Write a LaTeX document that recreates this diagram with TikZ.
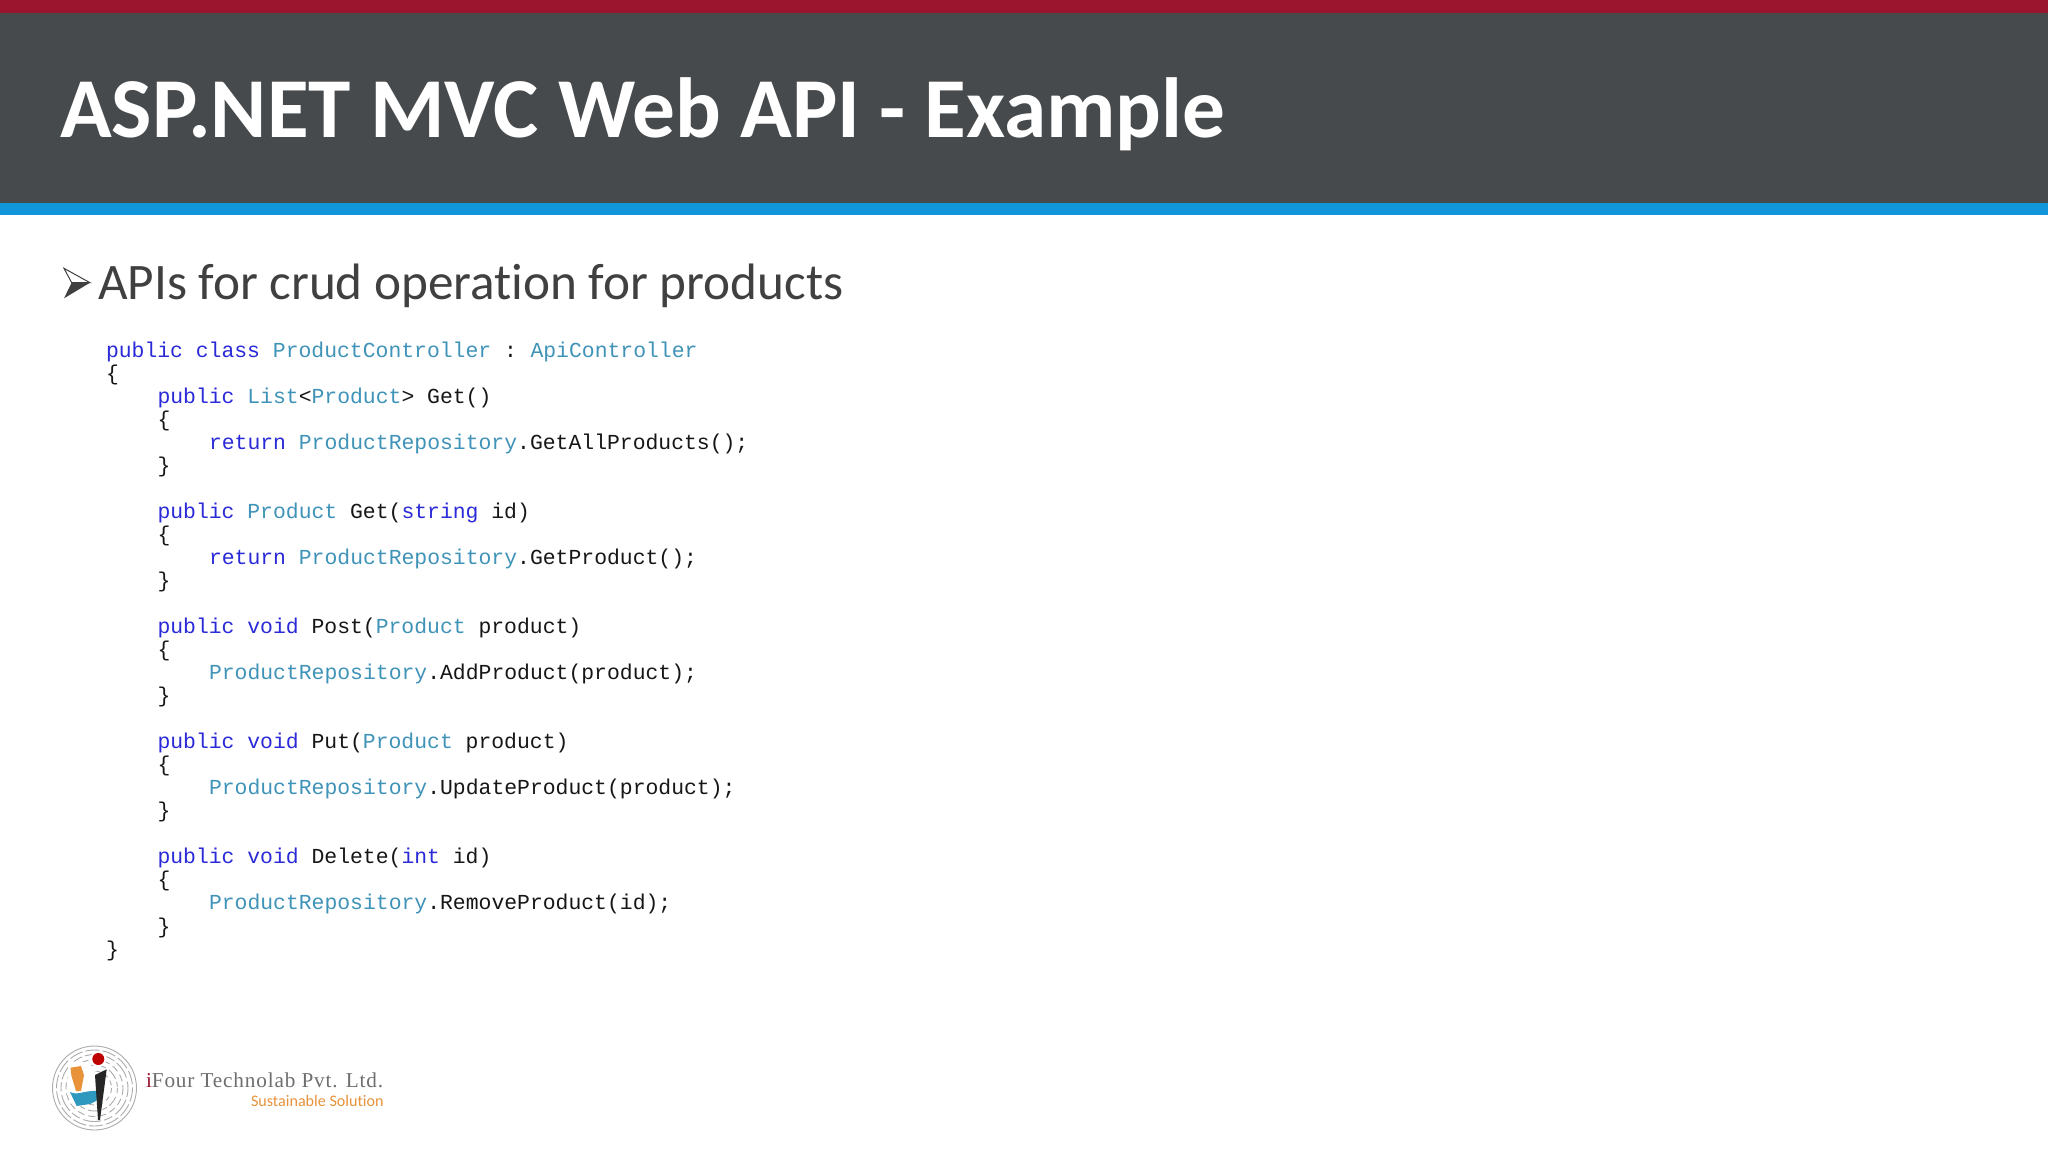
\documentclass[tikz,border=0pt]{standalone}
\usepackage{fontspec}
\setmainfont[Ligatures=NoCommon]{Carlito}
\newfontfamily\codefont{Liberation Mono}
\newfontfamily\logofont[LetterSpace=4]{Liberation Serif}
\definecolor{topred}{HTML}{9C152F}
\definecolor{bandgrey}{HTML}{474A4C}
\definecolor{bandblue}{HTML}{1296DB}
\definecolor{bodygrey}{HTML}{404040}
\definecolor{kw}{HTML}{2A2AD8}
\definecolor{ty}{HTML}{3F93B8}
\definecolor{plain}{HTML}{161616}
\definecolor{logogrey}{HTML}{6E6E6E}
\definecolor{logoorange}{HTML}{E8923A}
\definecolor{logoblue}{HTML}{2E98BE}
\definecolor{mazegrey}{HTML}{ABABAB}
\newcommand{\K}[1]{\textcolor{kw}{#1}}
\newcommand{\T}[1]{\textcolor{ty}{#1}}
\tikzset{
  codeline/.style={anchor=base west,inner sep=0pt,outer sep=0pt,text=plain,font=\codefont\fontsize{21.4}{23}\selectfont},
  maze/.style={draw=mazegrey,line width=0.9pt,fill=none},
  plaintext/.style={anchor=base west,inner sep=0pt,outer sep=0pt}
}
\begin{document}
\begin{tikzpicture}[x=1pt,y=-1pt]
\useasboundingbox (0,0) rectangle (2048,1152);
\fill[white] (0,0) rectangle (2048,1152);
\fill[topred] (0,0) rectangle (2048,12.5);
\fill[bandgrey] (0,12.5) rectangle (2048,203);
\fill[bandblue] (0,203) rectangle (2048,215);
\node[plaintext,text=white,font=\bfseries\fontsize{85.3}{90}\selectfont] (title) at (60,137) {ASP.NET MVC Web API - Example};
% bullet
\fill[white,draw=bodygrey,line width=1pt] (64,268.3) -- (90,282.7) -- (71.7,282.7) -- cycle;
\fill[bodygrey] (64,298.3) -- (90,282.7) -- (71.7,282.7) -- cycle;
\node[plaintext,text=bodygrey,font=\fontsize{51.2}{56}\selectfont] (subtitle) at (98,299) {APIs for crud operation for products};
% code
\node[codeline] (c0) at (106,{357+0*23.04}) {\K{public class} \T{ProductController} :\hspace{-3.5pt} \T{ApiController}};
\node[codeline] (c1) at (106,{357+1*23.04}) {\{};
\node[codeline] (c2) at (157.5,{357+2*23.04}) {\K{public} \T{List}<\T{Product}> Get()};
\node[codeline] (c3) at (157.5,{357+3*23.04}) {\{};
\node[codeline] (c4) at (209,{357+4*23.04}) {\K{return} \T{ProductRepository}.GetAllProducts();};
\node[codeline] (c5) at (157.5,{357+5*23.04}) {\}};
\node[codeline] (c7) at (157.5,{357+7*23.04}) {\K{public} \T{Product} Get(\K{string} id)};
\node[codeline] (c8) at (157.5,{357+8*23.04}) {\{};
\node[codeline] (c9) at (209,{357+9*23.04}) {\K{return} \T{ProductRepository}.GetProduct();};
\node[codeline] (c10) at (157.5,{357+10*23.04}) {\}};
\node[codeline] (c12) at (157.5,{357+12*23.04}) {\K{public void} Post(\T{Product} product)};
\node[codeline] (c13) at (157.5,{357+13*23.04}) {\{};
\node[codeline] (c14) at (209,{357+14*23.04}) {\T{ProductRepository}.AddProduct(product);};
\node[codeline] (c15) at (157.5,{357+15*23.04}) {\}};
\node[codeline] (c17) at (157.5,{357+17*23.04}) {\K{public void} Put(\T{Product} product)};
\node[codeline] (c18) at (157.5,{357+18*23.04}) {\{};
\node[codeline] (c19) at (209,{357+19*23.04}) {\T{ProductRepository}.UpdateProduct(product);};
\node[codeline] (c20) at (157.5,{357+20*23.04}) {\}};
\node[codeline] (c22) at (157.5,{357+22*23.04}) {\K{public void} Delete(\K{int} id)};
\node[codeline] (c23) at (157.5,{357+23*23.04}) {\{};
\node[codeline] (c24) at (209,{357+24*23.04}) {\T{ProductRepository}.RemoveProduct(id);};
\node[codeline] (c25) at (157.5,{357+25*23.04}) {\}};
\node[codeline] (c26) at (106,{357+26*23.04}) {\}};
% logo
\draw[maze] (94.5,1088) circle (42);
\draw[maze,dash pattern=on 14pt off 3pt] (94.5,1088) circle (38);
\draw[maze,dash pattern=on 9pt off 3pt on 18pt off 4pt] (94.5,1088) circle (33.5);
\draw[maze,dash pattern=on 7pt off 4pt] (94.5,1088) circle (28.5);
\draw[maze,dash pattern=on 5pt off 4pt on 11pt off 3pt] (94.5,1088) circle (23);
\draw[maze,dash pattern=on 5pt off 4pt] (94.5,1088) circle (17);
\fill[white] (68,1062) -- (90,1062) -- (100,1095) -- (68,1095) -- cycle;
\fill[logoorange] (70.5,1067.7) -- (81,1066) -- (84,1075) -- (81,1091) -- (76,1091) -- (71.5,1076) -- cycle;
\fill[logoblue] (70,1092) .. controls (78,1096) and (84,1090) .. (98,1091) -- (98,1097.5) -- (96,1101) -- (90,1104) -- (76.7,1106) -- cycle;
\fill[white] (98.3,1059) circle (8);
\fill[red!75!black] (98.3,1059) circle (6);
\fill[black!85] (95,1075) -- (106.7,1069.3) -- (100,1120) -- (98,1120) -- cycle;
\node[plaintext,font=\logofont\fontsize{21.2}{24}\selectfont] (logoname) at (146,1087) {\textcolor{topred}{i}\textcolor{logogrey}{Four Technolab Pvt. Ltd.}};
\node[plaintext,text=logoorange,font=\fontsize{16.1}{18}\selectfont] (logotag) at (251,1106) {Sustainable Solution};
\end{tikzpicture}
\end{document}
